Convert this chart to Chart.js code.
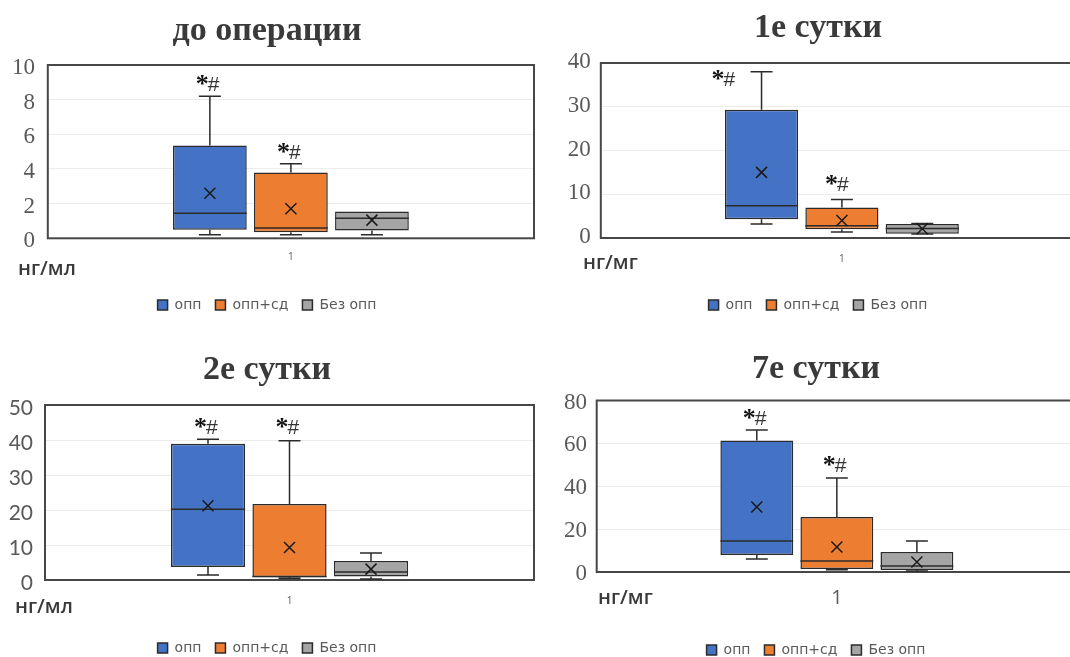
<!DOCTYPE html>
<html>
<head>
<meta charset="utf-8">
<script src="https://cdn.jsdelivr.net/npm/chart.js@4.4.1/dist/chart.umd.min.js"></script>
<style>
html, body { margin:0; padding:0; background:#fff; overflow:hidden; width:1070px; height:657px; }
canvas { position:absolute; }
</style>
</head>
<body>
<canvas id="c0"></canvas>
<canvas id="c1"></canvas>
<canvas id="c2"></canvas>
<canvas id="c3"></canvas>
<script>
// ---------- DATA ----------
const categories = ['1'];
const seriesNames = ['опп', 'опп+сд', 'Без опп'];
const seriesColors = ['#4472C4', '#ED7D31', '#A5A5A5'];

const panelTitles = ['до операции', '1е сутки', '2е сутки', '7е сутки'];
const unitLabels = ['нг/мл', 'нг/мг', 'нг/мл', 'нг/мг'];
const yMaxima = [10, 40, 50, 80];
const yStepSizes = [2, 10, 10, 20];
const significanceMark = '*#';

// five-number summaries: [min, q1, median, q3, max]
const beforeOpp   = [0.2, 0.5, 1.45, 5.35, 8.2];
const beforeOppSd = [0.2, 0.35, 0.6, 3.8, 4.3];
const beforeNoOpp = [0.2, 0.45, 1.15, 1.55, 1.55];
const beforeMeans = [2.6, 1.7, 1.05];
const beforeMarks = [8.95, 5.0, null];

const day1Opp   = [3.2, 4.3, 7.4, 29.3, 38];
const day1OppSd = [1.4, 2.0, 2.8, 7.0, 8.8];
const day1NoOpp = [0.9, 1.0, 2.2, 3.2, 3.3];
const day1Means = [15, 4.0, 2.1];
const day1Marks = [36.5, 12.5, null];

const day2Opp   = [1.4, 3.7, 20.2, 38.9, 40.2];
const day2OppSd = [0.5, 0.8, 1.0, 21.7, 39.8];
const day2NoOpp = [0.3, 1.0, 2.3, 5.4, 7.7];
const day2Means = [21.2, 9.3, 3.1];
const day2Marks = [44, 44, null];

const day7Opp   = [6.1, 7.9, 14.5, 61.3, 66.2];
const day7OppSd = [1.0, 1.4, 5.1, 25.7, 43.8];
const day7NoOpp = [0.5, 0.9, 2.8, 9.3, 14.5];
const day7Means = [30.3, 11.7, 4.7];
const day7Marks = [72.2, 50.4, null];

const panelStats = [
  [beforeOpp, beforeOppSd, beforeNoOpp],
  [day1Opp, day1OppSd, day1NoOpp],
  [day2Opp, day2OppSd, day2NoOpp],
  [day7Opp, day7OppSd, day7NoOpp]
];
const panelMeans = [beforeMeans, day1Means, day2Means, day7Means];
const panelMarks = [beforeMarks, day1Marks, day2Marks, day7Marks];

// ---------- LAYOUT (positions / styles) ----------
const SERIF = '"Liberation Serif", "Times New Roman", serif';
const layouts = [
  {x:0,   y:0,   w:535, h:330, padL:0,  padR:1, yW:47.8, titleY:31,   chartTop:65,   chartBottom:238.3, legendY:305, tickY:257, tickSize:10, yFont:SERIF, ySize:23, yPad:12.8, yOff:3,  unitX:18, unitY:269, markDx:[0,0,0]},
  {x:535, y:0,   w:548, h:330, padL:18, padR:0, yW:47.8, titleY:28.5, chartTop:63,   chartBottom:238,   legendY:305, tickY:259, tickSize:10, yFont:SERIF, ySize:23, yPad:10,   yOff:-1, unitX:48, unitY:263, markDx:[-36,-3,0]},
  {x:0,   y:330, w:535, h:345, padL:0,  padR:1, yW:45,   titleY:40,   chartTop:75,   chartBottom:250,   legendY:318, tickY:271, tickSize:10, yFont:'Lato, "Open Sans", sans-serif', ySize:21, yPad:12, yOff:3, unitX:15, unitY:277, markDx:[0,0,0]},
  {x:535, y:330, w:542, h:345, padL:20, padR:0, yW:41.7, titleY:39,   chartTop:70.5, chartBottom:242,   legendY:320, tickY:268, tickSize:20, yFont:SERIF, ySize:23, yPad:9.7,  yOff:2,  unitX:63, unitY:268, markDx:[0,0,0]}
];
const TITLE_SIZE = 34;
const LEG_SIZE = 14, LEG_PAD = 14, LEG_BOX = 10;
const INK = '#2b2b2b';

function makeExtras(p) {
  const L = layouts[p];
  return {
    id: 'boxExtras' + p,
    afterDatasetsDraw(chart) {
      const ctx = chart.ctx;
      const ys = chart.scales.y;
      const a = chart.chartArea;
      ctx.save();
      // plot frame
      ctx.strokeStyle = '#474747';
      ctx.lineWidth = 2;
      ctx.strokeRect(a.left, a.top, a.right - a.left, a.bottom - a.top);

      chart.data.datasets.forEach((ds, i) => {
        const bar = chart.getDatasetMeta(i).data[0];
        const cx = bar.x, w = bar.width;
        const s = panelStats[p][i];
        const pMin = ys.getPixelForValue(s[0]);
        const pQ1 = ys.getPixelForValue(s[1]);
        const pMed = ys.getPixelForValue(s[2]);
        const pQ3 = ys.getPixelForValue(s[3]);
        const pMax = ys.getPixelForValue(s[4]);
        const cap = 11;
        ctx.strokeStyle = INK;
        ctx.lineWidth = 1.5;
        ctx.beginPath();
        if (s[4] > s[3]) {
          ctx.moveTo(cx, pQ3); ctx.lineTo(cx, pMax);
          ctx.moveTo(cx - cap, pMax); ctx.lineTo(cx + cap, pMax);
        }
        if (s[0] < s[1]) {
          ctx.moveTo(cx, pQ1); ctx.lineTo(cx, pMin);
          ctx.moveTo(cx - cap, pMin); ctx.lineTo(cx + cap, pMin);
        }
        // median
        ctx.moveTo(cx - w / 2, pMed); ctx.lineTo(cx + w / 2, pMed);
        ctx.stroke();
        // mean (x marker)
        const pMean = ys.getPixelForValue(panelMeans[p][i]);
        const m = 5.5;
        ctx.strokeStyle = '#1a1a1a';
        ctx.beginPath();
        ctx.moveTo(cx - m, pMean - m); ctx.lineTo(cx + m, pMean + m);
        ctx.moveTo(cx - m, pMean + m); ctx.lineTo(cx + m, pMean - m);
        ctx.stroke();
        // significance mark
        const mk = panelMarks[p][i];
        if (mk !== null && mk !== undefined) {
          const my = ys.getPixelForValue(mk);
          const mx = cx + L.markDx[i];
          ctx.textBaseline = 'middle';
          ctx.fillStyle = '#111';
          ctx.font = 'bold 26px ' + SERIF;
          ctx.textAlign = 'right';
          ctx.fillText(significanceMark.charAt(0), mx - 1, my + 2);
          ctx.fillStyle = '#333';
          ctx.font = '21px "Liberation Sans", Arial, sans-serif';
          ctx.textAlign = 'left';
          ctx.fillText(significanceMark.charAt(1), mx - 2, my + 2);
        }
      });
      ctx.restore();
    },
    afterDraw(chart) {
      const ctx = chart.ctx;
      ctx.save();
      ctx.font = '600 20px "Open Sans", sans-serif';
      ctx.fillStyle = '#3a3a3a';
      ctx.textBaseline = 'middle';
      ctx.textAlign = 'left';
      ctx.fillText(unitLabels[p], L.unitX, L.unitY);
      ctx.restore();
    }
  };
}

function buildChart(p) {
  const L = layouts[p];
  const cv = document.getElementById('c' + p);
  cv.width = L.w; cv.height = L.h;
  cv.style.left = L.x + 'px'; cv.style.top = L.y + 'px';
  cv.style.width = L.w + 'px'; cv.style.height = L.h + 'px';

  const titlePadTop = L.titleY - 0.6 * TITLE_SIZE;
  const titlePadBottom = L.chartTop - titlePadTop - 1.2 * TITLE_SIZE;
  const itemH = Math.max(LEG_SIZE, LEG_BOX);
  const legendTop = L.legendY - LEG_PAD - itemH / 2;
  const legendH = itemH + LEG_PAD + 10;
  const padB = L.h - legendTop - legendH;
  const xAxisH = legendTop - L.chartBottom;
  const xTickPad = L.tickY - L.chartBottom - 0.6 * L.tickSize;

  const datasets = seriesNames.map((name, i) => ({
    label: name,
    data: [[panelStats[p][i][1], panelStats[p][i][3]]],
    backgroundColor: seriesColors[i],
    borderColor: INK,
    borderWidth: 1.5,
    borderSkipped: false,
    categoryPercentage: 0.5,
    barPercentage: 0.91
  }));

  return new Chart(cv, {
    type: 'bar',
    data: { labels: categories, datasets },
    options: {
      responsive: false,
      animation: false,
      devicePixelRatio: 1,
      layout: { padding: { left: L.padL, right: L.padR, top: 0, bottom: padB } },
      plugins: {
        title: {
          display: true,
          text: panelTitles[p],
          color: '#3a3a3a',
          font: { family: SERIF, size: TITLE_SIZE, weight: 'bold' },
          padding: { top: titlePadTop, bottom: titlePadBottom }
        },
        legend: {
          position: 'bottom',
          labels: {
            boxWidth: LEG_BOX, boxHeight: LEG_BOX, padding: LEG_PAD,
            color: '#595959',
            font: { family: '"DejaVu Sans", sans-serif', size: LEG_SIZE }
          }
        },
        tooltip: { enabled: false }
      },
      scales: {
        x: {
          grid: { display: false, drawTicks: false },
          border: { display: false },
          ticks: {
            color: '#595959',
            padding: xTickPad,
            font: { family: '"Open Sans", sans-serif', size: L.tickSize }
          },
          afterFit(scale) { scale.height = xAxisH; }
        },
        y: {
          min: 0,
          max: yMaxima[p],
          grid: { color: '#ececec', lineWidth: 1, drawTicks: false },
          border: { display: false },
          ticks: {
            stepSize: yStepSizes[p],
            color: '#595959',
            padding: L.yPad,
            labelOffset: L.yOff,
            font: { family: L.yFont, size: L.ySize }
          },
          afterFit(scale) { scale.width = L.yW; }
        }
      }
    },
    plugins: [makeExtras(p)]
  });
}

for (let p = 0; p < 4; p++) buildChart(p);
</script>
</body>
</html>
